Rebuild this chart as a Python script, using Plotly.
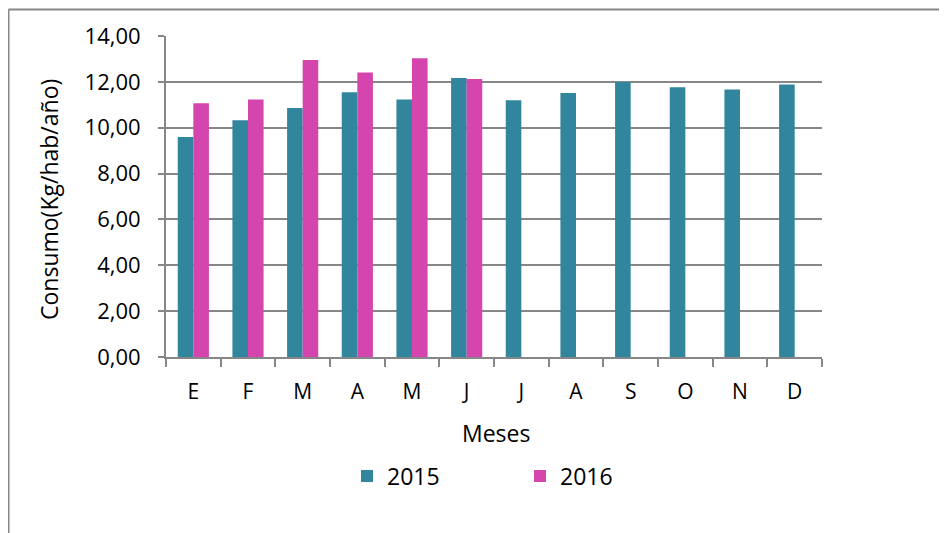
import plotly.graph_objects as go

months = ["E", "F", "M", "A", "M ", "J", "J ", "A ", "S", "O", "N", "D"]
month_labels = ["E", "F", "M", "A", "M", "J", "J", "A", "S", "O", "N", "D"]
vals_2015 = [9.60, 10.33, 10.86, 11.55, 11.23, 12.17, 11.20, 11.51, 11.99, 11.76, 11.67, 11.89]
vals_2016 = [11.07, 11.23, 12.95, 12.41, 13.03, 12.12, None, None, None, None, None, None]
y_ticks = [0, 2, 4, 6, 8, 10, 12, 14]
y_tick_text = ["0,00", "2,00", "4,00", "6,00", "8,00", "10,00", "12,00", "14,00"]

C15 = "#31859C"
C16 = "#D445AE"
GRID = "#878787"
FONT = "Open Sans"

OFF = 8  # default body margin of the html page
PW, PH = 947, 533
W, H = PW - OFF, PH - OFF
# plot area in page pixels
PL, PR, PT, PB = 166, 822, 36, 357
L, R, T, B = PL - OFF, PR - OFF, PT - OFF, PB - OFF

fig = go.Figure()
fig.add_trace(go.Bar(x=months, y=vals_2015, name="2015", marker=dict(color=C15, line=dict(width=0))))
fig.add_trace(go.Bar(x=months, y=vals_2016, name="2016", marker=dict(color=C16, line=dict(width=0))))

def px_x(p):  # page px -> paper
    return (p - OFF - L) / (R - L)

def px_y(p):
    return (B - (p - OFF)) / (B - T)

fig.update_layout(
    width=W, height=H,
    margin=dict(l=L, r=W - R, t=T, b=H - B, pad=0),
    paper_bgcolor="white", plot_bgcolor="white",
    barmode="group", bargap=0.43, bargroupgap=0,
    font=dict(family=FONT, size=21, color="black"),
    showlegend=True,
    legend=dict(orientation="h", x=px_x(347), y=px_y(476), xanchor="left", yanchor="middle",
                font=dict(family=FONT, size=23), entrywidth=128, entrywidthmode="pixels",
                itemsizing="constant", traceorder="normal", bgcolor="rgba(0,0,0,0)"),
    xaxis=dict(
        type="category", tickmode="array", tickvals=months, ticktext=month_labels,
        showline=True, linecolor=GRID, linewidth=2,
        ticks="outside", tickson="boundaries", ticklen=8, tickwidth=2, tickcolor=GRID,
        showgrid=False, ticklabelstandoff=15,
        tickfont=dict(family=FONT, size=21), fixedrange=True,
    ),
    yaxis=dict(
        range=[0, 14], tickmode="array", tickvals=y_ticks, ticktext=y_tick_text,
        showline=True, linecolor=GRID, linewidth=2,
        ticks="outside", ticklen=6, tickwidth=2, tickcolor=GRID,
        showgrid=True, gridcolor=GRID, gridwidth=2, zeroline=False,
        ticklabelstandoff=13, tickfont=dict(family=FONT, size=22), fixedrange=True,
    ),
    annotations=[
        dict(text="Consumo(Kg/hab/año)", xref="paper", yref="paper", x=px_x(49), y=px_y(200),
             showarrow=False, textangle=-90, xanchor="center", yanchor="middle",
             font=dict(family=FONT, size=23)),
        dict(text="Meses", xref="paper", yref="paper", x=px_x(496), y=px_y(433),
             showarrow=False, xanchor="center", yanchor="middle",
             font=dict(family=FONT, size=23)),
    ],
    shapes=[
        dict(type="line", xref="paper", yref="paper", x0=px_x(8.5), x1=px_x(960), y0=px_y(9.5), y1=px_y(9.5),
             line=dict(color=GRID, width=2)),
        dict(type="line", xref="paper", yref="paper", x0=px_x(8.5), x1=px_x(8.5), y0=px_y(9.5), y1=px_y(560),
             line=dict(color=GRID, width=2)),
    ],
)

fig.write_html("out.html")
